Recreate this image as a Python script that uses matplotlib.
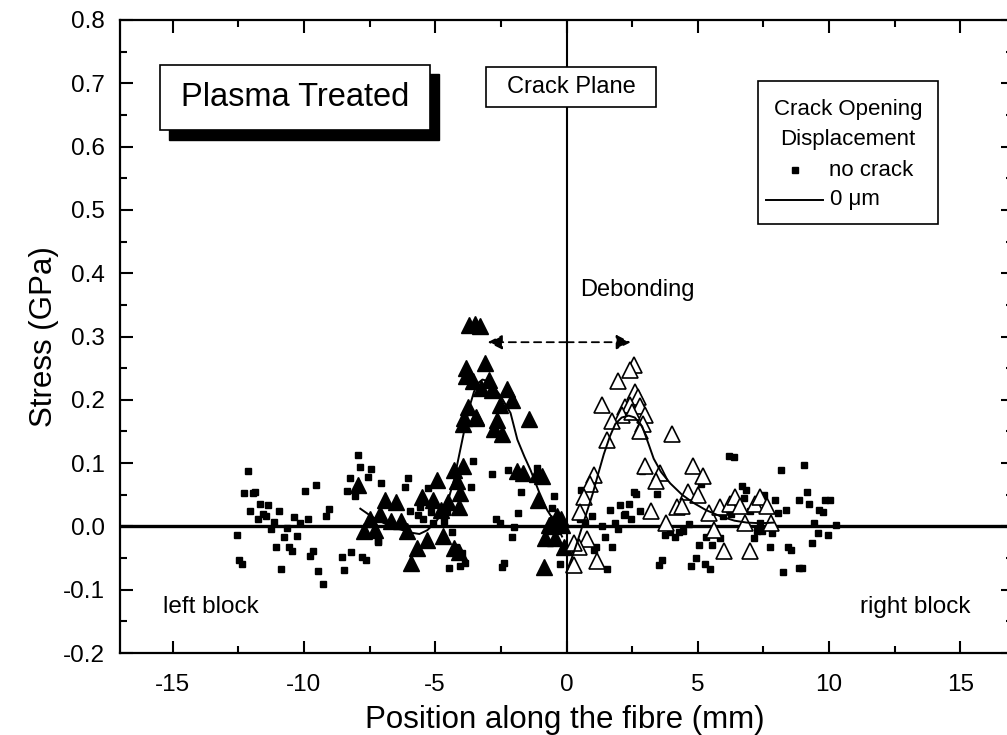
import matplotlib
matplotlib.use("Agg")
import matplotlib.pyplot as plt
from matplotlib.patches import Rectangle
from matplotlib.ticker import MultipleLocator, FormatStrFormatter

plt.rcParams['font.family'] = ['Liberation Sans', 'DejaVu Sans']
plt.rcParams['axes.unicode_minus'] = False

# Raman stress measurements, no crack (squares)
nocrack_x = [-12.14, -12.27, -11.93, -11.85, -12.05, -11.66, -11.36, -11.56, -11.45, -11.75,
             -10.95, -11.15, -11.25, -10.64, -10.37, -10.14, -9.83, -9.95, -9.54, -9.05,
             -9.16, -12.55, -12.46, -12.34, -10.75, -10.27, -11.05, -10.56, -10.46, -10.86,
             -9.64, -9.76, -9.45, -9.26, -8.56, -8.46, -8.26, -8.36, -8.21,
             -7.94, -7.86, -7.45, -7.55, -7.06, -8.07, -7.17, -7.77, -7.64,
             -6.03, -6.16, -5.27, -5.95, -5.58, -5.65, -5.45, -5.17, -4.56, -4.66,
             -5.08, -3.65, -3.55, -2.85, -2.23, -1.75, -1.85, -2.67, -2.54, -1.98,
             -2.07, -1.11, -0.46, -0.54, -7.16, -4.37, -4.22, -3.96, -3.87, -4.46,
             -4.05, -2.38, -2.44, -0.23,
             0.56, 0.98, 0.51, 0.72, 1.36, 1.67, 2.05, 2.37, 2.18, 2.24,
             2.46, 2.78, 2.56, 2.66, 3.45, 2.88, 1.86, 1.95, 1.46, 1.74,
             1.14, 1.04, 1.55, 3.54, 3.64, 6.17, 6.36, 8.16, 5.13, 6.68,
             6.83, 6.74, 6.99, 5.95, 6.26, 7.95, 8.05, 8.37, 7.53, 4.65,
             3.76, 3.95, 4.15, 4.30, 4.44, 5.32, 5.86, 5.54, 5.03, 4.94,
             4.75, 5.26, 5.45, 7.15, 7.25, 7.46, 7.84, 7.76, 8.43, 8.54,
             8.24, 8.84, 8.84, 7.37,
             9.06, 9.15, 9.24, 9.85, 10.04, 9.63, 9.75, 9.44, 10.26, 9.56,
             9.95, 9.34, 8.95]
nocrack_y = [0.087, 0.052, 0.052, 0.054, 0.025, 0.035, 0.034, 0.019, 0.017, 0.011,
             0.025, 0.007, -0.004, -0.002, 0.015, 0.005, 0.011, 0.056, 0.066, 0.027,
             0.016, -0.013, -0.053, -0.059, -0.017, -0.015, -0.033, -0.033, -0.039, -0.068,
             -0.039, -0.046, -0.071, -0.091, -0.048, -0.069, 0.076, 0.056, -0.041,
             0.113, 0.094, 0.091, 0.078, 0.068, 0.048, -0.024, -0.048, -0.053,
             0.077, 0.062, 0.060, 0.025, 0.031, 0.018, 0.012, 0.022, 0.022, 0.008,
             0.005, 0.062, 0.103, 0.082, 0.089, 0.054, 0.021, 0.012, 0.006, -0.001,
             -0.017, 0.093, 0.048, 0.029, -0.023, -0.009, -0.032, -0.042, -0.058, -0.066,
             -0.062, -0.058, -0.064, -0.059,
             0.057, 0.016, 0.011, 0.006, 0.000, 0.026, 0.034, 0.035, 0.018, 0.020,
             0.011, 0.025, 0.054, 0.051, 0.051, 0.087, 0.006, -0.004, -0.017, -0.033,
             -0.032, -0.038, -0.067, -0.061, -0.053, 0.112, 0.109, 0.089, 0.067, 0.064,
             0.058, 0.045, 0.024, 0.017, 0.020, 0.041, 0.021, 0.026, 0.049, 0.004,
             -0.013, -0.009, -0.017, -0.009, -0.008, -0.017, -0.018, -0.029, -0.029, -0.050,
             -0.062, -0.059, -0.067, -0.018, -0.007, -0.008, -0.011, -0.032, -0.032, -0.037,
             -0.072, -0.066, 0.041, 0.005,
             0.097, 0.054, 0.035, 0.042, 0.041, 0.026, 0.022, 0.005, 0.002, -0.011,
             -0.013, -0.027, -0.065]

# 0 um crack opening, left block (filled triangles)
left_x = [-7.92, -7.48, -7.10, -7.71, -7.30, -6.92, -6.50, -6.69, -6.31, -6.08,
          -5.93, -5.70, -5.30, -4.72, -4.28, -4.09, -5.51, -5.10, -4.92, -4.79,
          -4.51, -4.09, -4.05, -4.16, -4.28, -3.95, -3.93, -3.90, -3.46, -3.43,
          -3.75, -3.84, -3.81, -3.55, -3.25, -3.11, -2.95, -2.83, -2.25, -2.06,
          -2.54, -2.63, -2.76, -2.45, -1.43, -1.87, -1.65, -1.11, -0.92, -1.09,
          -3.70, -3.50, -3.30, -0.35, -0.22, -0.54, -0.67, -0.17, -0.60, -0.80,
          -0.42, -0.10, -0.86]
left_y = [0.065, 0.012, 0.020, -0.008, -0.005, 0.041, 0.039, 0.009, 0.009, -0.008,
          -0.058, -0.034, -0.021, -0.015, -0.034, -0.041, 0.047, 0.042, 0.074, 0.026,
          0.039, 0.031, 0.052, 0.071, 0.089, 0.096, 0.161, 0.171, 0.171, 0.173,
          0.188, 0.250, 0.237, 0.229, 0.218, 0.258, 0.232, 0.216, 0.217, 0.200,
          0.192, 0.168, 0.154, 0.146, 0.169, 0.088, 0.085, 0.083, 0.079, 0.041,
          0.318, 0.320, 0.317, 0.016, 0.011, 0.000, 0.003, 0.003, 0.005, -0.018,
          -0.018, -0.032, -0.064]

# 0 um crack opening, right block (open triangles)
right_x = [2.56, 2.43, 1.95, 1.36, 2.62, 2.71, 2.24, 2.43, 2.81, 2.97,
           2.12, 2.50, 1.74, 2.91, 2.81, 1.55, 4.02, 3.00, 3.57, 3.42,
           4.82, 5.20, 1.04, 0.91, 0.66, 4.61, 4.99, 4.21, 4.40, 3.22,
           0.53, 5.41, 5.83, 6.24, 6.43, 6.62, 7.19, 7.37, 7.63, 3.80,
           6.81, 7.80, 5.60, 5.98, 7.00, 0.79, 0.47, 0.28, 1.17, 0.28]
right_y = [0.255, 0.247, 0.230, 0.191, 0.212, 0.205, 0.189, 0.192, 0.190, 0.176,
           0.176, 0.180, 0.166, 0.162, 0.150, 0.137, 0.146, 0.095, 0.084, 0.071,
           0.095, 0.080, 0.081, 0.067, 0.046, 0.054, 0.050, 0.031, 0.033, 0.024,
           0.022, 0.021, 0.031, 0.036, 0.047, 0.032, 0.036, 0.047, 0.032, 0.006,
           0.006, 0.006, -0.006, -0.039, -0.039, -0.020, -0.032, -0.026, -0.055, -0.061]

# fitted stress profiles
left_fit_x = [-7.85, -7.4, -6.9, -6.4, -5.9, -5.6, -5.3, -5.0, -4.75, -4.5,
              -4.28, -4.1, -3.9, -3.7, -3.52, -3.35, -3.2, -2.95, -2.76, -2.45,
              -2.13, -1.87, -1.6, -1.37, -1.05, -0.74, -0.4, -0.17]
left_fit_y = [0.028, 0.015, 0.004, -0.004, -0.010, -0.012, -0.006, 0.006, 0.020, 0.042,
              0.074, 0.110, 0.150, 0.188, 0.213, 0.227, 0.232, 0.229, 0.221, 0.202,
              0.179, 0.137, 0.110, 0.089, 0.055, 0.026, 0.004, -0.016]
right_fit_x = [0.0, 0.2, 0.4, 0.6, 0.8, 1.0, 1.2, 1.42, 1.65, 1.86,
               2.1, 2.37, 2.6, 2.88, 3.1, 3.32, 3.6, 3.95, 4.4, 4.84,
               5.3, 5.86, 6.4, 6.87, 7.4, 7.88]
right_fit_y = [-0.072, -0.050, -0.026, 0.000, 0.026, 0.052, 0.082, 0.114, 0.142, 0.162,
               0.172, 0.175, 0.172, 0.158, 0.133, 0.107, 0.086, 0.068, 0.050, 0.037,
               0.026, 0.016, 0.009, 0.006, 0.005, 0.006]

debond_start, debond_end, debond_level = -3.0, 2.45, 0.291

W, H = 1007, 735
fig = plt.figure(figsize=(W / 100, H / 100), dpi=100)
ax = fig.add_axes([120 / W, 1 - 653 / H, 893 / W, 633 / H])

ax.axhline(0, color='black', lw=2.4, zorder=1)
ax.axvline(0, color='black', lw=1.5, zorder=1)

ax.plot(nocrack_x, nocrack_y, 's', color='black', ms=4.5, zorder=3)
ax.plot(left_x, left_y, '^', color='black', ms=11, zorder=3)
ax.plot(right_x, right_y, '^', mfc='white', mec='black', mew=1.2, ms=11, zorder=3)
ax.plot(left_fit_x, left_fit_y, '-', color='black', lw=1.4, zorder=4)
ax.plot(right_fit_x, right_fit_y, '-', color='black', lw=1.4, zorder=4)

# debonding arrow
for end in (debond_start, debond_end):
    ax.annotate('', xy=(end, debond_level), xytext=(0, debond_level),
                arrowprops=dict(arrowstyle='-|>', ls=(0, (4, 3)), color='black', lw=1.3,
                                mutation_scale=22, shrinkA=0, shrinkB=0))
ax.text(2.7, 0.374, 'Debonding', fontsize=17, ha='center', va='center')

ax.set_xlim(-17, 17)
ax.set_ylim(-0.2, 0.8)
ax.xaxis.set_major_locator(MultipleLocator(5))
ax.xaxis.set_minor_locator(MultipleLocator(2.5))
ax.yaxis.set_major_locator(MultipleLocator(0.1))
ax.yaxis.set_minor_locator(MultipleLocator(0.05))
ax.yaxis.set_major_formatter(FormatStrFormatter('%.1f'))
ax.tick_params(which='both', direction='in', top=True, right=True, width=1.5,
               labelsize=17.5)
ax.tick_params(axis='y', pad=11)
ax.tick_params(axis='x', pad=15)
ax.tick_params(which='major', length=9)
ax.tick_params(which='minor', length=5)
for s in ax.spines.values():
    s.set_linewidth(1.6)

ax.set_xlabel('Position along the fibre (mm)', fontsize=22.5)
ax.set_ylabel('Stress (GPa)', fontsize=22.5)
ax.xaxis.set_label_coords(0.498, -0.082)
ax.yaxis.set_label_coords(-0.068, 0.5)

# "Plasma Treated" box with drop shadow
ax.add_patch(Rectangle((0.0545, 0.811), 0.3025, 0.104, transform=ax.transAxes,
                       facecolor='black', edgecolor='black', zorder=6))
ax.add_patch(Rectangle((0.0448, 0.826), 0.3023, 0.103, transform=ax.transAxes,
                       facecolor='white', edgecolor='black', lw=1.2, zorder=7))
ax.text(0.196, 0.877, 'Plasma Treated', transform=ax.transAxes, fontsize=23.5,
        ha='center', va='center', zorder=8)

# crack plane label
ax.add_patch(Rectangle((0.410, 0.8626), 0.190, 0.0634, transform=ax.transAxes,
                       facecolor='white', edgecolor='black', lw=1.2, zorder=7))
ax.text(0.505, 0.894, 'Crack Plane', transform=ax.transAxes, fontsize=17,
        ha='center', va='center', zorder=8)

# legend
ax.add_patch(Rectangle((0.715, 0.677), 0.201, 0.227, transform=ax.transAxes,
                       facecolor='white', edgecolor='black', lw=1.2, zorder=7))
ax.text(0.815, 0.858, 'Crack Opening', transform=ax.transAxes, fontsize=16,
        ha='center', va='center', zorder=8)
ax.text(0.815, 0.812, 'Displacement', transform=ax.transAxes, fontsize=16,
        ha='center', va='center', zorder=8)
ax.plot([0.756], [0.763], 's', color='black', ms=4.5, transform=ax.transAxes, zorder=8)
ax.text(0.794, 0.763, 'no crack', transform=ax.transAxes, fontsize=16,
        ha='left', va='center', zorder=8)
ax.plot([0.723, 0.787], [0.716, 0.716], '-', color='black', lw=1.4,
        transform=ax.transAxes, zorder=8)
ax.text(0.795, 0.716, '0 \u03bcm', transform=ax.transAxes, fontsize=16,
        ha='left', va='center', zorder=8)

ax.text(0.0485, 0.073, 'left block', transform=ax.transAxes, fontsize=17.5,
        ha='left', va='center')
ax.text(0.9526, 0.073, 'right block', transform=ax.transAxes, fontsize=17.5,
        ha='right', va='center')

fig.savefig('out.png', dpi=100)
